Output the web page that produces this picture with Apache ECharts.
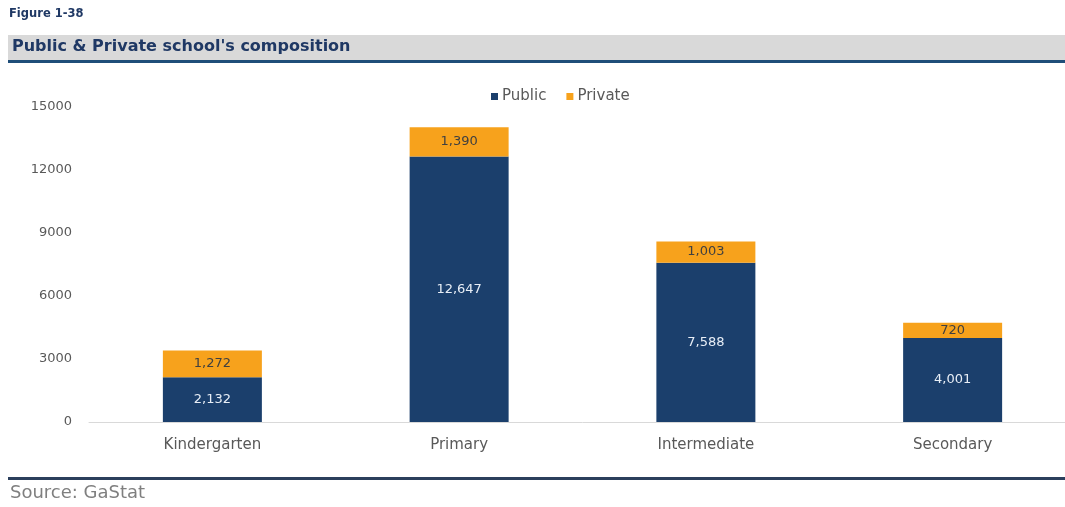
<!DOCTYPE html>
<html>
<head>
<meta charset="utf-8">
<script src="https://cdn.jsdelivr.net/npm/echarts@6/dist/echarts.min.js"></script>
<style>
  html, body { margin: 0; padding: 0; background: #ffffff; overflow: hidden; }
  /* the plot area runs slightly past the right edge of the page */
  #chart { width: 1080px; height: 507px; }
</style>
</head>
<body>
<div id="chart"></div>
<script>
// School levels and counts of public / private schools
const categories = ['Kindergarten', 'Primary', 'Intermediate', 'Secondary'];
const publicSchools = [2132, 12647, 7588, 4001];
const privateSchools = [1272, 1390, 1003, 720];
const yTicks = [0, 3000, 6000, 9000, 12000, 15000];

const FONT = '"DejaVu Sans", sans-serif';
const NAVY = '#1b3f6c';
const ORANGE = '#f7a21c';

const fmt = v => v.toLocaleString('en-US');

const chart = echarts.init(document.getElementById('chart'), null, { renderer: 'canvas' });

chart.setOption({
  backgroundColor: '#ffffff',
  animation: false,
  textStyle: { fontFamily: FONT },
  graphic: [
    { type: 'text', left: 9, top: 8,
      style: { text: 'Figure 1-38', font: 'bold 11.5px ' + FONT, fill: '#1f3864' } },
    { type: 'rect', shape: { x: 8, y: 35, width: 1072, height: 25 },
      style: { fill: '#d9d9d9' } },
    { type: 'text', left: 12, top: 39,
      style: { text: "Public & Private school's composition", font: 'bold 16px ' + FONT, fill: '#1f3864' } },
    { type: 'rect', shape: { x: 8, y: 60, width: 1072, height: 3 },
      style: { fill: '#1f4e79' } },
    { type: 'rect', shape: { x: 8, y: 477, width: 1072, height: 3 },
      style: { fill: '#2b3f5c' } },
    { type: 'text', left: 10, top: 484,
      style: { text: 'Source: GaStat', font: '18px ' + FONT, fill: '#7f7f7f' } }
  ],
  legend: {
    top: 84,
    left: 486,
    itemWidth: 7,
    itemHeight: 7,
    itemGap: 20,
    icon: 'rect',
    textStyle: { fontSize: 15, color: '#595959', fontFamily: FONT, padding: [0, 0, 0, -1] },
    data: ['Public', 'Private']
  },
  grid: { left: 89, top: 107, width: 987, height: 315, containLabel: false },
  xAxis: {
    type: 'category',
    data: categories,
    axisLine: { lineStyle: { color: '#d9d9d9', width: 1 } },
    axisTick: { show: false },
    axisLabel: { color: '#595959', fontSize: 15, margin: 16, fontFamily: FONT }
  },
  yAxis: {
    type: 'value',
    min: yTicks[0],
    max: yTicks[yTicks.length - 1],
    interval: 3000,
    splitLine: { show: false },
    axisLine: { show: false },
    axisTick: { show: false },
    axisLabel: { color: '#595959', fontSize: 13, margin: 17, fontFamily: FONT,
      formatter: v => String(v) }
  },
  series: [
    {
      name: 'Public',
      type: 'bar',
      stack: 'schools',
      barWidth: 99,
      data: publicSchools,
      itemStyle: { color: NAVY },
      label: {
        show: true, position: 'inside', color: '#e8eef6', fontSize: 13, fontFamily: FONT,
        formatter: p => fmt(p.value)
      }
    },
    {
      name: 'Private',
      type: 'bar',
      stack: 'schools',
      barWidth: 99,
      data: privateSchools,
      itemStyle: { color: ORANGE },
      label: {
        show: true, position: 'inside', color: '#404040', fontSize: 13, fontFamily: FONT,
        formatter: p => fmt(p.value)
      }
    }
  ]
});
</script>
</body>
</html>
